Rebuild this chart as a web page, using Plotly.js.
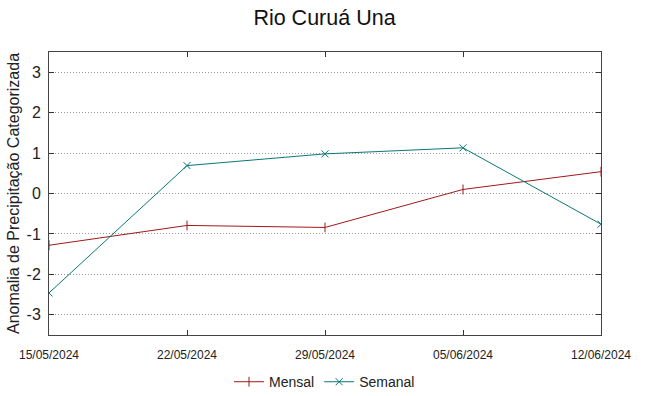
<!DOCTYPE html>
<html><head><meta charset="utf-8">
<script src="https://cdn.plot.ly/plotly-3.0.1.min.js"></script>
<style>body{margin:0;background:#fff}#c{width:649px;height:396px}</style>
</head><body><div id="c"></div>
<script>
const dates = ["2024-05-15","2024-05-22","2024-05-29","2024-06-05","2024-06-12"];
const tickLabels = ["15/05/2024","22/05/2024","29/05/2024","05/06/2024","12/06/2024"];
const yTicks = [-3,-2,-1,0,1,2,3];
const yTickLabels = ["-3","-2","-1","0","1","2","3"];
const mensal = [-1.28, -0.79, -0.84, 0.10, 0.54];
const semanal = [-2.46, 0.69, 0.98, 1.13, -0.76];

const font = "Liberation Sans, Arial, sans-serif";
const traces = [
  {x: dates, y: mensal, name: "Mensal", type: "scatter", mode: "lines+markers",
   line: {color: "#a01818", width: 1}, marker: {symbol: "line-ns", size: 7, line: {color: "#a01818", width: 1}}},
  {x: dates, y: semanal, name: "Semanal", type: "scatter", mode: "lines+markers",
   line: {color: "#0a7878", width: 1}, marker: {symbol: "x-thin", size: 7, line: {color: "#0a7878", width: 1}}}
];
const layout = {
  width: 649, height: 396,
  margin: {l: 49, r: 48, t: 52, b: 61},
  paper_bgcolor: "#fff", plot_bgcolor: "#fff",
  font: {family: font, color: "#222"},
  title: {text: "Rio Curuá Una", x: 0.5, xanchor: "center", y: 0.955, yanchor: "middle", font: {size: 21.5, color: "#111"}},
  xaxis: {type: "date", range: ["2024-05-15","2024-06-12"], tickvals: dates, ticktext: tickLabels,
    tickfont: {size: 12}, ticks: "inside", ticklen: 5, tickcolor: "#333", showgrid: false, ticklabelstandoff: 9,
    showline: true, linecolor: "#444", linewidth: 1, mirror: "ticks", zeroline: false, automargin: false},
  yaxis: {range: [-3.5, 3.5], tickvals: yTicks, ticktext: yTickLabels, tickfont: {size: 16}, ticks: "inside", ticklen: 5,
    tickcolor: "#333", showgrid: true, gridcolor: "#999", griddash: "1px,2px", gridwidth: 1, ticklabelstandoff: 4,
    showline: true, linecolor: "#444", linewidth: 1, mirror: "ticks", zeroline: false, automargin: false,
    title: {text: "Anomalia de Precipitação Categorizada", font: {size: 16}, standoff: 2}},
  showlegend: true,
  legend: {orientation: "h", x: 0.5, xanchor: "center", xref: "container", y: 0.035, yanchor: "middle", yref: "container", font: {size: 14}}
};
Plotly.newPlot("c", traces, layout, {displayModeBar: false, staticPlot: true});
</script></body></html>
